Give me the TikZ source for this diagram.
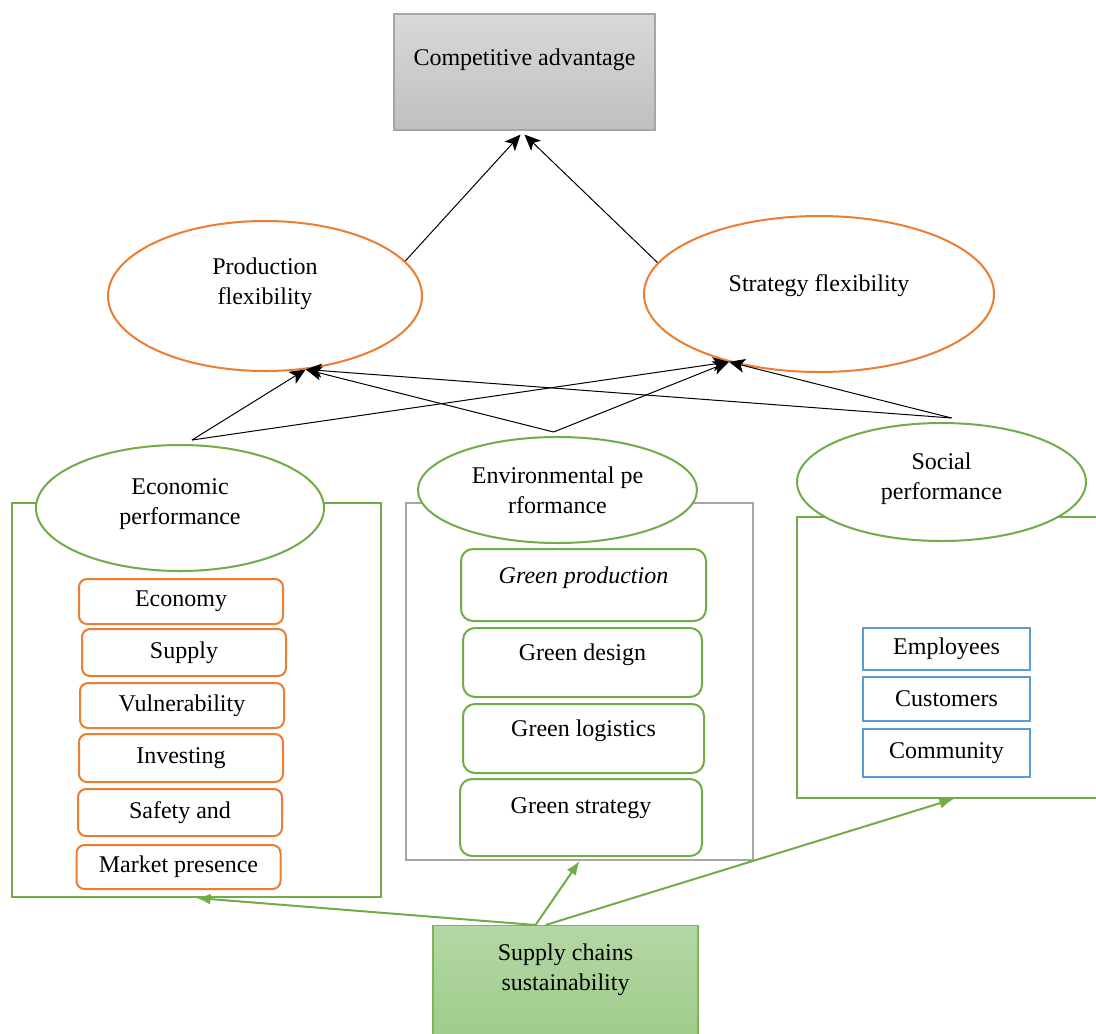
\documentclass[tikz,border=0pt]{standalone}
\usepackage{fontspec}
\setmainfont{Liberation Serif}
\usepackage{tikz}
\usetikzlibrary{arrows.meta,shapes.geometric}
\definecolor{accorange}{HTML}{ED7D31}
\definecolor{accgreen}{HTML}{70AD47}
\definecolor{accblue}{HTML}{5B9BD5}
\definecolor{framegray}{HTML}{A6A6A6}
\definecolor{sustop}{HTML}{B4D7A5}
\definecolor{susbot}{HTML}{9BC984}
\tikzset{
  every node/.style={font=\fontsize{12}{15}\selectfont},
  oval/.style={ellipse,draw,line width=1pt,fill=white,inner sep=0pt,align=center},
  frame/.style={rectangle,draw,line width=1pt,inner sep=0pt,align=center},
  item/.style={rectangle,draw,line width=1pt,inner sep=0pt,fill=white},
  link/.style={-{Stealth[length=8pt,width=7pt,inset=2pt]},line width=0.5pt},
  feed/.style={-{Latex[length=7pt,width=5.5pt]},line width=1pt,accgreen}
}

\begin{document}
\begin{tikzpicture}[x=0.5pt,y=-0.5pt]
  \useasboundingbox (0,0) rectangle (1096,1033);
  % top
  \node[frame,draw=framegray,line width=0.6pt,top color=black!15,bottom color=black!25,
    minimum width=130.5pt,minimum height=58pt,text depth=15pt] (comp) at (524.5,72)
    {Competitive advantage};
  % flexibility
  \node[oval,draw=accorange,minimum width=157pt,minimum height=75pt,text depth=14.5pt]
    (prod) at (265,296) {Production\\flexibility};
  \node[oval,draw=accorange,minimum width=175pt,minimum height=78pt,text depth=11pt]
    (strat) at (819,294) {Strategy flexibility};
  % frames
  \node[frame,draw=accgreen,minimum width=184.5pt,minimum height=197pt] (econbox) at (196.5,700) {};
  \node[frame,draw=framegray,minimum width=173.5pt,minimum height=178.5pt] (envbox) at (579.5,681.5) {};
  \node[frame,draw=accgreen,minimum width=156.5pt,minimum height=140.5pt] (socbox) at (953.5,657.5) {};
  % pillars
  \node[oval,draw=accgreen,minimum width=144pt,minimum height=63pt,text depth=6pt] (econ) at (180,508)
    {Economic\\performance};
  \node[oval,draw=accgreen,minimum width=139.5pt,minimum height=53pt] (env) at (557.5,490)
    {Environmental pe\\rformance};
  \node[oval,draw=accgreen,minimum width=144.5pt,minimum height=59pt,text depth=6pt] (soc) at (941.5,482)
    {Social\\performance};
  % economic items
  \foreach \n/\X/\Y/\H/\L in {1/181/601.5/22.5/Economy,2/184/652.5/23.5/Supply,
    3/182/705.5/22.5/Vulnerability,4/181/758/24/Investing,5/180/812.5/23.5/Safety and,
    6/178.5/867/22/Market presence}
    \node[item,draw=accorange,rounded corners=4pt,minimum width=102pt,minimum height=\H pt]
      (eco\n) at (\X,\Y) {\L};
  % environmental items
  \node[item,draw=accgreen,rounded corners=6pt,minimum width=122.5pt,minimum height=36pt,
    text depth=10pt] (gprod) at (583.5,585) {\itshape Green production};
  \node[item,draw=accgreen,rounded corners=6pt,minimum width=119.5pt,minimum height=34.5pt,
    text depth=10pt] (gdes) at (582.5,662.5) {Green design};
  \node[item,draw=accgreen,rounded corners=6pt,minimum width=120.5pt,minimum height=34.5pt,
    text depth=10pt] (glog) at (583.5,738.5) {Green logistics};
  \node[item,draw=accgreen,rounded corners=6pt,minimum width=121pt,minimum height=38.5pt,
    text depth=12pt] (gstr) at (581,817.5) {Green strategy};
  % social items
  \foreach \n/\Y/\H/\L in {1/649/21/Employees,2/699/22/Customers,3/753/24/Community}
    \node[item,draw=accblue,minimum width=83.5pt,minimum height=\H pt] (stk\n) at (946.5,\Y) {\L};
  % driver
  \node[frame,draw=accgreen!90,line width=0.6pt,top color=sustop,bottom color=susbot,anchor=north,
    minimum width=132.5pt,minimum height=70pt,text depth=28.5pt] (sup) at (565.5,925)
    {Supply chains\\sustainability};
  % arrows
  \draw[link] (prod.14) -- ([xshift=-2pt,yshift=-2pt]comp.south);
  \draw[link] (strat.169) -- ([yshift=-2pt]comp.south);
  \foreach \s/\dx in {econ/6,env/-2,soc/5}{
    \draw[link] ([xshift=\dx pt,yshift=2pt]\s.north) -- (prod.-61);
    \draw[link] ([xshift=\dx pt,yshift=2pt]\s.north) -- (strat.-143);
  }
  \draw[feed] ([xshift=-15pt]sup.north) -- (econbox.south);
  \draw[feed] ([xshift=-15pt]sup.north) -- (envbox.south);
  \draw[feed] ([xshift=-10pt]sup.north) -- (socbox.south);
\end{tikzpicture}
\end{document}
